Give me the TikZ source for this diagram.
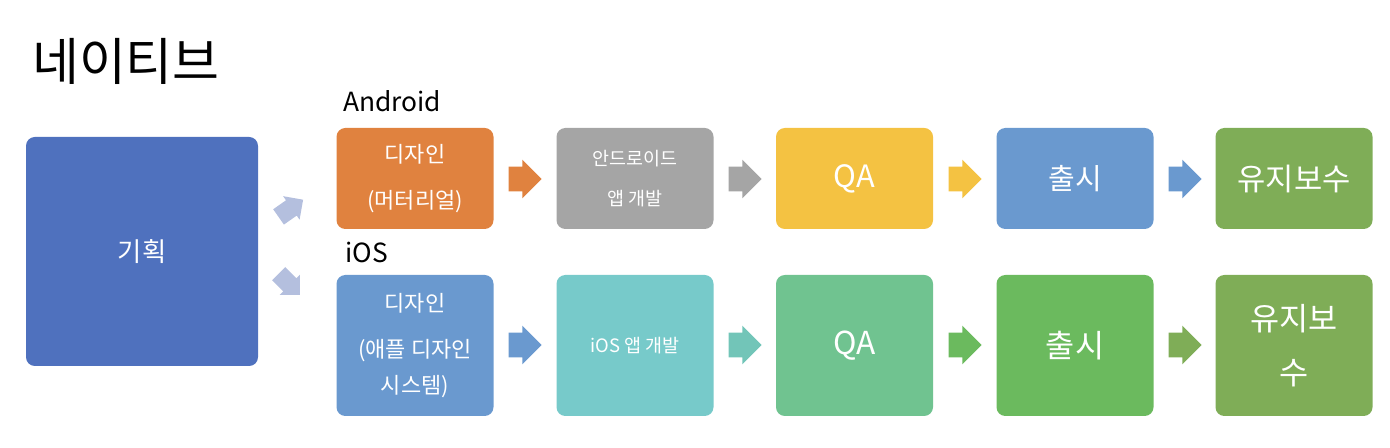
\documentclass[tikz,border=0pt]{standalone}
\usepackage{fontspec}
\setmainfont{Noto Sans CJK KR}
\usetikzlibrary{shapes.arrows}

\definecolor{planblue}{HTML}{4F71BE}
\definecolor{aorange}{HTML}{E0823F}
\definecolor{agray}{HTML}{A5A5A5}
\definecolor{ayellow}{HTML}{F4C242}
\definecolor{ablue}{HTML}{6A99CF}
\definecolor{agreen}{HTML}{7FAD57}
\definecolor{iteal}{HTML}{77CACA}
\definecolor{iteal2}{HTML}{72C5B8}
\definecolor{imint}{HTML}{70C390}
\definecolor{igreen}{HTML}{6BBA5E}
\definecolor{lavender}{HTML}{B4BFDE}

\begin{document}
\begin{tikzpicture}[
    box/.style={rounded corners=5pt, minimum width=3.14cm, align=center, text=white, inner sep=2pt},
    topbox/.style={box, minimum height=2.02cm},
    botbox/.style={box, minimum height=2.82cm},
    blockarr/.style={single arrow, minimum height=0.66cm, inner xsep=0pt, inner ysep=0.24cm, single arrow head extend=0.14cm, outer sep=0pt},
    tiltarr/.style={single arrow, fill=lavender, minimum height=0.60cm, inner xsep=0pt, inner ysep=0.18cm, single arrow head extend=0.10cm, outer sep=0pt},
    labelstyle/.style={font=\fontsize{15}{18}\selectfont, anchor=base west},
]
\useasboundingbox (0,0) rectangle (27.8,8.96);

% ============ title and row labels ============
\node[font=\fontsize{29}{32}\selectfont, anchor=base west] (title) at (0.52, 7.35) {네이티브};
\node[labelstyle] (android) at (6.74, 6.72) {Android};
\node[labelstyle] (ios) at (6.78, 3.70) {iOS};

% ============ planning ============
\node[box, fill=planblue, minimum width=4.64cm, minimum height=4.58cm, font=\fontsize{15}{18}\selectfont] (plan) at (2.84, 3.93) {기획};

\node[tiltarr, rotate=35] (plan_up) at (5.74, 4.74) {};
\node[tiltarr, rotate=-45] (plan_down) at (5.72, 3.34) {};

% ============ Android row ============
\node[topbox, fill=aorange, font=\fontsize{12.5}{20}\selectfont] (a_design) at (8.30, 5.39) {디자인\\[6pt](머터리얼)};
\node[topbox, fill=agray, font=\fontsize{10.5}{22.5}\selectfont] (a_dev) at (12.70, 5.39) {안드로이드\\앱 개발};
\node[topbox, fill=ayellow, font=\fontsize{17.5}{20}\selectfont] (a_qa) at (17.09, 5.39) {QA};
\node[topbox, fill=ablue, font=\fontsize{16.5}{20}\selectfont] (a_release) at (21.50, 5.39) {출시};
\node[topbox, fill=agreen, font=\fontsize{17.5}{20}\selectfont] (a_maint) at (25.88, 5.39) {유지보수};

\node[blockarr, fill=aorange] (a_arr1) at (10.38, 5.38) {};
\node[blockarr, fill=agray] (a_arr2) at (14.78, 5.38) {};
\node[blockarr, fill=ayellow] (a_arr3) at (19.18, 5.38) {};
\node[blockarr, fill=ablue] (a_arr4) at (23.58, 5.38) {};

% ============ iOS row ============
\node[botbox, fill=ablue, font=\fontsize{12.5}{20.5}\selectfont] (i_design) at (8.30, 2.05) {디자인\\[6pt](애플 디자인\\시스템)};
\node[botbox, fill=iteal, font=\fontsize{10.5}{20}\selectfont] (i_dev) at (12.70, 2.05) {iOS 앱 개발};
\node[botbox, fill=imint, font=\fontsize{18}{20}\selectfont] (i_qa) at (17.09, 2.05) {QA};
\node[botbox, fill=igreen, font=\fontsize{18}{20}\selectfont] (i_release) at (21.50, 2.05) {출시};
\node[botbox, fill=agreen, font=\fontsize{18}{31}\selectfont] (i_maint) at (25.88, 2.05) {유지보\\수};

\node[blockarr, fill=ablue] (i_arr1) at (10.38, 2.06) {};
\node[blockarr, fill=iteal2] (i_arr2) at (14.78, 2.06) {};
\node[blockarr, fill=igreen] (i_arr3) at (19.18, 2.06) {};
\node[blockarr, fill=agreen] (i_arr4) at (23.58, 2.06) {};

\end{tikzpicture}
\end{document}
